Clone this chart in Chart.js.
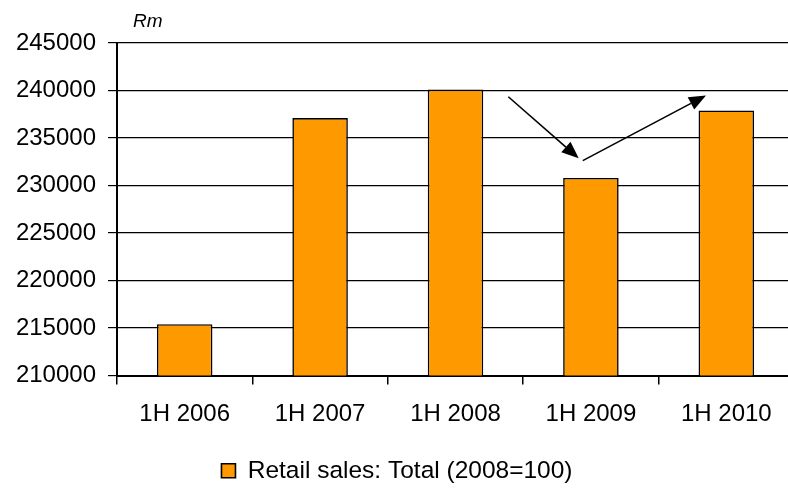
<!DOCTYPE html>
<html>
<head>
<meta charset="utf-8">
<script src="https://cdn.jsdelivr.net/npm/chart.js"></script>
<style>
  html, body { margin: 0; padding: 0; background: #fff; overflow: hidden; }
  /* the plot runs a few pixels past the right edge in the original */
  #wrap { width: 794px; height: 499px; }
</style>
</head>
<body>
<div id="wrap"><canvas id="myChart"></canvas></div>
<script>
// data
const categories = ['1H 2006', '1H 2007', '1H 2008', '1H 2009', '1H 2010'];
const retailSales = [215400, 237100, 240100, 230800, 237900];
const seriesLabel = 'Retail sales: Total (2008=100)';
const yMin = 210000;
const yMax = 245000;
const yStep = 5000;

// the two arrows, in chart units: [category index, value]
const arrowStarts = [[2.39, 239340], [2.94, 232620]];
const arrowEnds = [[2.91, 232870], [3.85, 239480]];

const FONT = '"Liberation Sans", Arial, sans-serif';

const extras = {
    id: 'extras',
    afterDatasetsDraw(chart) {
        const c = chart.ctx;
        const x = chart.scales.x, y = chart.scales.y;
        c.save();
        c.strokeStyle = '#000';
        c.fillStyle = '#000';
        c.lineWidth = 1.6;
        arrowStarts.forEach((s, i) => {
            const e = arrowEnds[i];
            const x1 = x.getPixelForValue(s[0]), y1 = y.getPixelForValue(s[1]);
            const x2 = x.getPixelForValue(e[0]), y2 = y.getPixelForValue(e[1]);
            const ang = Math.atan2(y2 - y1, x2 - x1);
            const len = 17, half = 7;
            const bx = x2 - len * Math.cos(ang), by = y2 - len * Math.sin(ang);
            c.beginPath();
            c.moveTo(x1, y1);
            c.lineTo(bx, by);
            c.stroke();
            c.beginPath();
            c.moveTo(x2, y2);
            c.lineTo(bx + half * Math.sin(ang), by - half * Math.cos(ang));
            c.lineTo(bx - half * Math.sin(ang), by + half * Math.cos(ang));
            c.closePath();
            c.fill();
        });
        // unit label
        c.font = 'italic 19px ' + FONT;
        c.textAlign = 'left';
        c.textBaseline = 'alphabetic';
        c.fillText('Rm', chart.chartArea.left + 16, 27);
        c.restore();
    }
};

const ctx = document.getElementById('myChart');

new Chart(ctx, {
    type: 'bar',
    data: {
        labels: categories,
        datasets: [{
            label: seriesLabel,
            data: retailSales,
            backgroundColor: '#FF9900',
            borderColor: '#000',
            borderWidth: 1.6,
            barPercentage: 0.41,
            categoryPercentage: 1
        }]
    },
    options: {
        responsive: true,
        maintainAspectRatio: false,
        animation: false,
        layout: { padding: { top: 43, left: 0, right: 0, bottom: 6 } },
        plugins: {
            legend: {
                position: 'bottom',
                align: 'center',
                labels: {
                    color: '#000',
                    font: { family: FONT, size: 24.5 },
                    boxWidth: 14,
                    boxHeight: 14,
                    padding: 10
                }
            },
            tooltip: { enabled: false }
        },
        scales: {
            x: {
                offset: true,
                grid: { offset: true, drawOnChartArea: false, color: '#000', tickLength: 9, lineWidth: 1.5 },
                border: { color: '#000', width: 2 },
                ticks: { color: '#000', font: { family: FONT, size: 24 }, padding: 15, maxRotation: 0 },
                afterFit(scale) { scale.height = 73; }
            },
            y: {
                min: yMin,
                max: yMax,
                grid: { color: '#000', tickLength: 9, lineWidth: 1.2 },
                border: { color: '#000', width: 2 },
                ticks: {
                    stepSize: yStep,
                    color: '#000',
                    font: { family: FONT, size: 24 },
                    padding: 12,
                    callback: v => String(v)
                },
                afterFit(scale) { scale.width = 117; }
            }
        }
    },
    plugins: [extras]
});
</script>
</body>
</html>
